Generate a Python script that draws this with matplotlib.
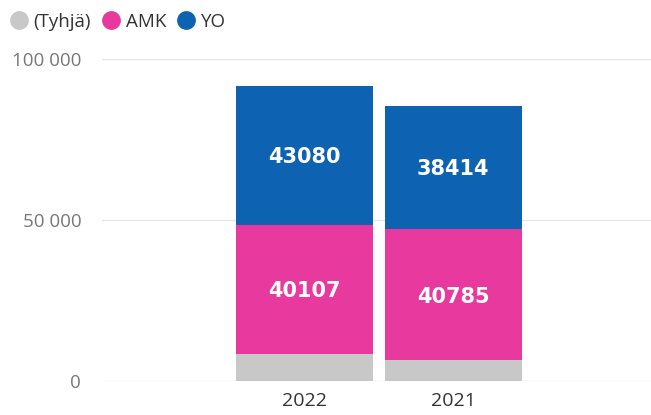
import numpy as np
import matplotlib.pyplot as plt
from matplotlib.lines import Line2D

# Data
years = ["2022", "2021"]
tyhja = [8400, 6300]
amk = [40107, 40785]
yo = [43080, 38414]

series_names = ["(Tyhjä)", "AMK", "YO"]
colors = ["#C8C8C8", "#E8399E", "#0D63B1"]

yticks = [0, 50000, 100000]
ytick_labels = ["0", "50 000", "100 000"]

fig = plt.figure(figsize=(6.51, 4.15), dpi=100)
ax = fig.add_axes([0.1567, 0.0827, 0.8433, 0.7751])

x = np.arange(len(years))
width = 0.923
bottom = np.zeros(len(years))
for name, vals, col in zip(series_names, [tyhja, amk, yo], colors):
    vals = np.array(vals, dtype=float)
    ax.bar(x, vals, width=width, bottom=bottom, color=col, zorder=2)
    if name != "(Tyhjä)":
        for xi, b, v in zip(x, bottom, vals):
            ax.text(xi, b + v / 2, f"{int(v)}", ha="center", va="center_baseline",
                    color="white", fontsize=15, fontweight="bold",
                    family="DejaVu Sans", zorder=3)
    bottom += vals

ax.set_xlim(-1.364, 2.333)
ax.set_ylim(0, 100000)
ax.set_yticks(yticks)
ax.set_yticklabels(ytick_labels, family="Open Sans", fontsize=13.5, color="#777777")
ax.set_xticks(x)
ax.set_xticklabels(years, family="Open Sans", fontsize=14, color="#333333")
ax.tick_params(axis="both", length=0)
ax.tick_params(axis="y", pad=15)
ax.tick_params(axis="x", pad=8)
ax.grid(axis="y", color="#E6E6E6", linewidth=1, zorder=0)
for s in ax.spines.values():
    s.set_visible(False)

handles = [Line2D([], [], marker="o", linestyle="", markersize=12.5,
                  markerfacecolor=c, markeredgecolor=c) for c in colors]
fig.legend(handles, series_names, loc="upper left", bbox_to_anchor=(-0.016, 1.01),
           ncol=3, frameon=False, handletextpad=0.15, columnspacing=0.4,
           handlelength=1.3, prop={"family": "Open Sans", "size": 13.5},
           labelcolor="#333333")

fig.savefig("out.png", dpi=100)
